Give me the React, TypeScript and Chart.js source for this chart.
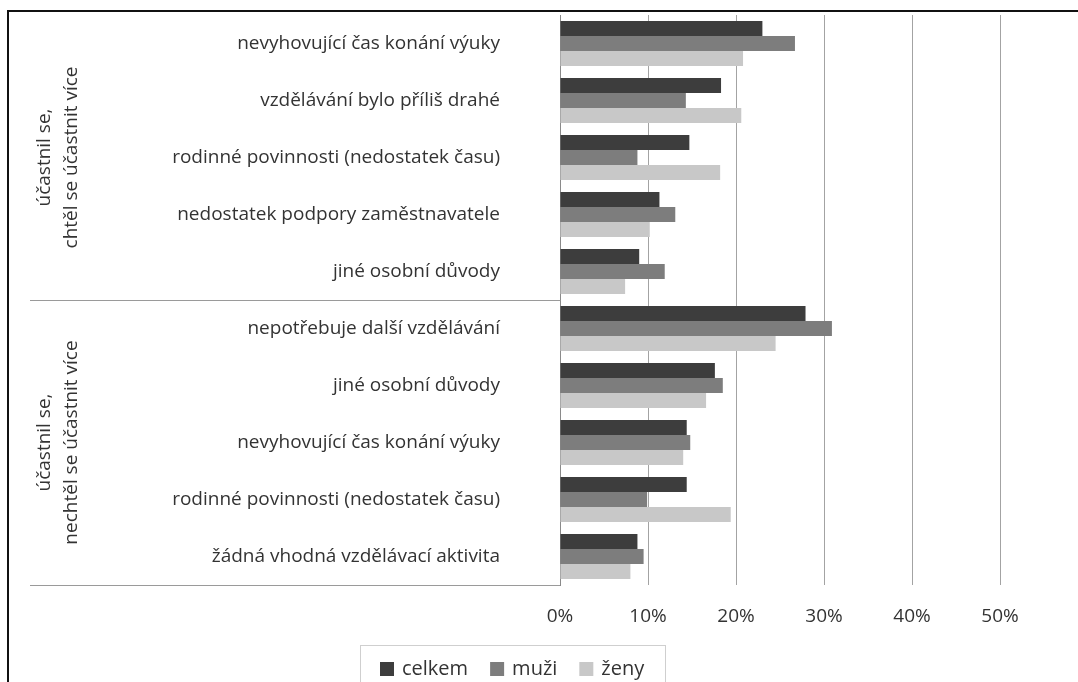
import React, { useEffect, useRef } from "react";
import { Chart, registerables } from "chart.js";

Chart.register(...registerables);

const categories = [
  "nevyhovující čas konání výuky",
  "vzdělávání bylo příliš drahé",
  "rodinné povinnosti (nedostatek času)",
  "nedostatek podpory zaměstnavatele",
  "jiné osobní důvody",
  "nepotřebuje další vzdělávání",
  "jiné osobní důvody",
  "nevyhovující čas konání výuky",
  "rodinné povinnosti (nedostatek času)",
  "žádná vhodná vzdělávací aktivita",
];

const seriesNames = ["celkem", "muži", "ženy"];
const celkem = [23.0, 18.3, 14.7, 11.3, 9.0, 27.9, 17.6, 14.4, 14.4, 8.8];
const muzi = [26.7, 14.3, 8.8, 13.1, 11.9, 30.9, 18.5, 14.8, 9.9, 9.5];
const zeny = [20.8, 20.6, 18.2, 10.2, 7.4, 24.5, 16.6, 14.0, 19.4, 8.0];
const seriesColors = ["#3d3d3d", "#7d7d7d", "#c8c8c8"];

const xTicks = [0, 10, 20, 30, 40, 50];

const groups = [
  { from: 0, to: 4, lines: ["účastnil se,", "chtěl se účastnit více"] },
  { from: 5, to: 9, lines: ["účastnil se,", "nechtěl se účastnit více"] },
];

const FONT = "'Open Sans', 'Noto Sans', sans-serif";
const TEXT = "#333333";

const decorPlugin = {
  id: "decor",
  afterDraw(chart: any) {
    const ctx = chart.ctx;
    const yScale = chart.scales.y;
    const area = chart.chartArea;
    ctx.save();

    // outer frame
    ctx.strokeStyle = "#111";
    ctx.lineWidth = 2;
    ctx.beginPath();
    ctx.moveTo(8, 700);
    ctx.lineTo(8, 11);
    ctx.lineTo(1090, 11);
    ctx.stroke();

    // group separators and labels
    const step = yScale.getPixelForValue(1) - yScale.getPixelForValue(0);
    ctx.strokeStyle = "#9a9a9a";
    ctx.lineWidth = 1;
    groups.forEach((g) => {
      const top = g.from === 0 ? area.top : yScale.getPixelForValue(g.from) - step / 2;
      const bottom = yScale.getPixelForValue(g.to) + step / 2;
      ctx.beginPath();
      ctx.moveTo(30, Math.round(bottom) + 0.5);
      ctx.lineTo(area.left, Math.round(bottom) + 0.5);
      ctx.stroke();

      const cy = (top + bottom) / 2;
      ctx.save();
      ctx.translate(58, cy);
      ctx.rotate(-Math.PI / 2);
      ctx.fillStyle = TEXT;
      ctx.font = `19px ${FONT}`;
      ctx.textAlign = "center";
      ctx.textBaseline = "middle";
      const lh = 27;
      g.lines.forEach((ln, i) => {
        ctx.fillText(ln, 0, (i - (g.lines.length - 1) / 2) * lh);
      });
      ctx.restore();
    });

    // legend
    const lx0 = 360;
    const ly0 = 645;
    const lw = 305;
    ctx.strokeStyle = "#cfcfcf";
    ctx.lineWidth = 1;
    ctx.strokeRect(lx0 + 0.5, ly0 + 0.5, lw, 60);
    ctx.font = `20px ${FONT}`;
    ctx.textBaseline = "middle";
    ctx.textAlign = "left";
    let x = 380;
    const cy = 669;
    chart.data.datasets.forEach((ds: any) => {
      ctx.fillStyle = ds.backgroundColor;
      ctx.fillRect(x, cy - 7, 14, 14);
      ctx.fillStyle = TEXT;
      ctx.fillText(ds.label, x + 22, cy);
      x += 22 + ctx.measureText(ds.label).width + 22;
    });

    ctx.restore();
  },
};

export default function App() {
  const ref = useRef<HTMLCanvasElement | null>(null);

  useEffect(() => {
    if (!ref.current) return;
    const values = [celkem, muzi, zeny];
    const chart = new Chart(ref.current, {
      type: "bar",
      data: {
        labels: categories,
        datasets: seriesNames.map((name, i) => ({
          label: name,
          data: values[i],
          backgroundColor: seriesColors[i],
          borderWidth: 0,
          categoryPercentage: 0.79,
          barPercentage: 1.0,
        })),
      },
      options: {
        indexAxis: "y",
        animation: false,
        responsive: false,
        devicePixelRatio: 1,
        layout: { padding: { left: 0, top: 15, right: 78, bottom: 0 } },
        plugins: {
          legend: { display: false },
          tooltip: { enabled: false },
        },
        scales: {
          x: {
            min: 0,
            max: 50,
            afterFit: (s: any) => {
              s.height = 97;
            },
            afterBuildTicks: (s: any) => {
              s.ticks = xTicks.map((v) => ({ value: v }));
            },
            border: { display: false },
            grid: { color: "#a3a3a3", lineWidth: 1, drawTicks: false },
            ticks: {
              padding: 20,
              color: TEXT,
              font: { family: FONT, size: 19 },
              callback: (v: any) => `${v}%`,
            },
          },
          y: {
            afterFit: (s: any) => {
              s.width = 560;
              s.paddingTop = 0;
              s.paddingBottom = 0;
            },
            grid: { display: false, drawTicks: false },
            border: { display: true, color: "#8a8a8a", width: 1 },
            ticks: {
              padding: 60,
              color: TEXT,
              font: { family: FONT, size: 19 },
              autoSkip: false,
            },
          },
        },
      },
      plugins: [decorPlugin],
    } as any);
    return () => chart.destroy();
  }, []);

  return (
    <div style={{ position: "fixed", left: 0, top: 0, width: 1078, height: 682, background: "#fff" }}>
      <canvas ref={ref} width={1078} height={682} style={{ width: 1078, height: 682, display: "block" }} />
    </div>
  );
}
